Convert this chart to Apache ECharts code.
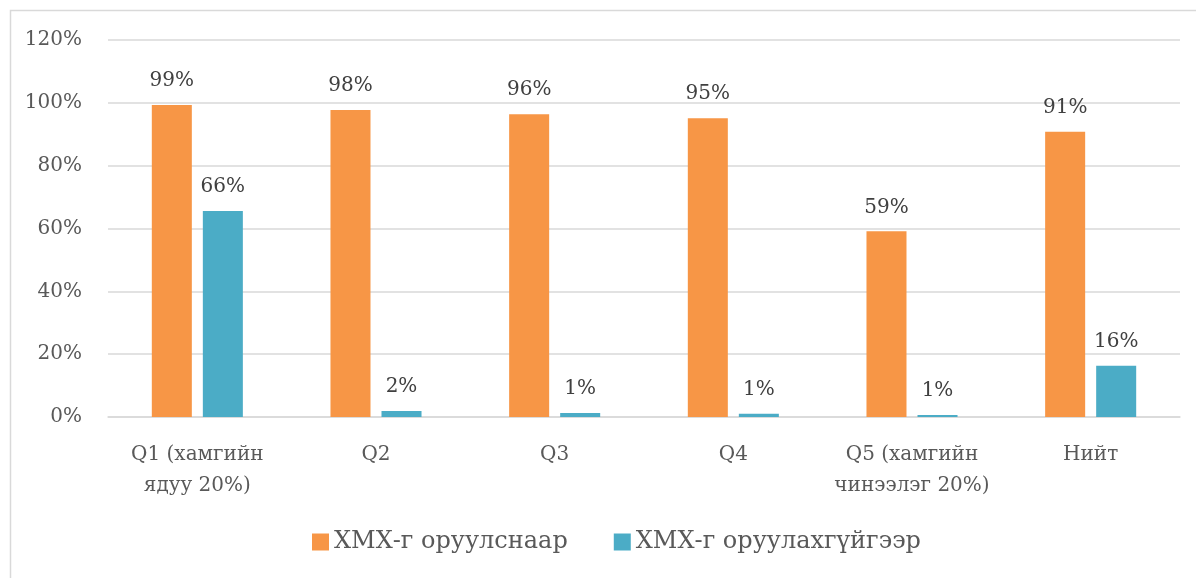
<!DOCTYPE html>
<html><head><meta charset="utf-8">
<script src="https://cdn.jsdelivr.net/npm/echarts@6/dist/echarts.min.js"></script>
<style>html,body{margin:0;padding:0;background:#fff}#c{width:1196px;height:578px}</style>
</head><body><div id="c"></div>
<script>
const categories = ['Q1 (хамгийн\nядуу 20%)', 'Q2', 'Q3', 'Q4', 'Q5 (хамгийн\nчинээлэг 20%)', 'Нийт'];
const seriesNames = ['ХМХ-г оруулснаар', 'ХМХ-г оруулахгүйгээр'];
const withSocial = [99.3, 97.7, 96.4, 95.1, 59.1, 90.8];
const withoutSocial = [65.6, 1.9, 1.3, 1.0, 0.6, 16.3];
const yTicks = [0, 20, 40, 60, 80, 100, 120];

const FONT = 'DejaVu Serif';
const chart = echarts.init(document.getElementById('c'), null, {renderer: 'canvas'});
const lbl = {show: true, position: 'top', distance: 14, color: '#404040', fontFamily: FONT, fontSize: 20,
  formatter: p => Math.round(p.value) + '%'};
chart.setOption({
  animation: false,
  textStyle: {fontFamily: FONT},
  graphic: [{type: 'rect', shape: {x: 10.5, y: 10.5, width: 1200, height: 600},
    style: {fill: 'none', stroke: '#d9d9d9', lineWidth: 1.5}, silent: true}],
  grid: {left: 108, right: 16, top: 40, bottom: 161, containLabel: false},
  legend: {data: seriesNames, bottom: 19, left: 307, itemWidth: 17, itemHeight: 17, itemGap: 46,
    icon: 'rect', textStyle: {color: '#595959', fontSize: 24, fontFamily: FONT}},
  xAxis: {type: 'category', data: categories,
    axisLine: {show: true, lineStyle: {color: '#d9d9d9', width: 1.5}}, axisTick: {show: false},
    axisLabel: {color: '#595959', fontSize: 20, fontFamily: FONT, margin: 22, lineHeight: 31, interval: 0}},
  yAxis: {type: 'value', min: yTicks[0], max: yTicks[yTicks.length - 1], interval: 20,
    axisLine: {show: false}, axisTick: {show: false},
    axisLabel: {color: '#595959', fontSize: 20, fontFamily: FONT, margin: 26, formatter: v => v + '%'},
    splitLine: {lineStyle: {color: '#d9d9d9', width: 1.5}}},
  series: [
    {name: seriesNames[0], type: 'bar', data: withSocial, barWidth: '22.4%', barGap: '27.5%',
      itemStyle: {color: '#f79646'}, label: lbl},
    {name: seriesNames[1], type: 'bar', data: withoutSocial, barWidth: '22.4%', barGap: '27.5%',
      itemStyle: {color: '#4bacc6'}, label: lbl}
  ]
});
</script></body></html>
